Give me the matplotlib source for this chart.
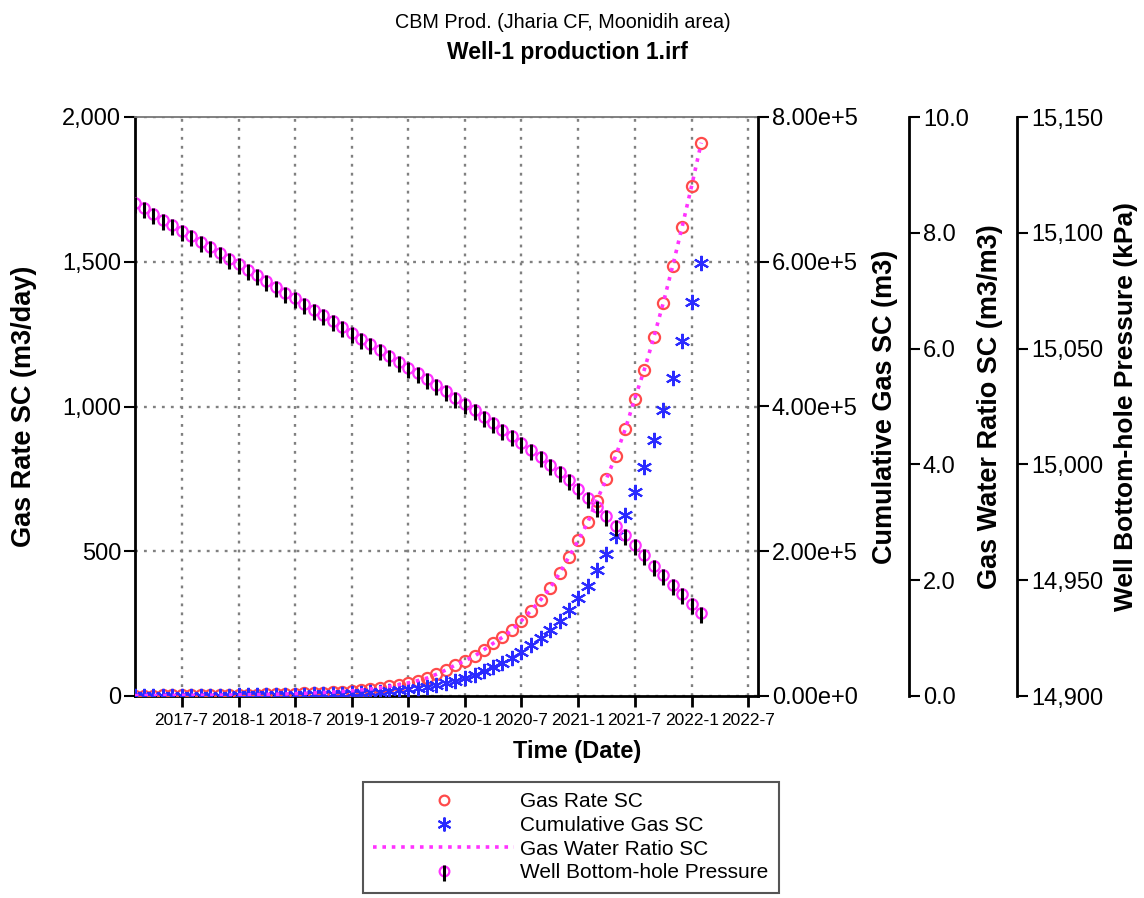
import matplotlib
matplotlib.use("Agg")
import matplotlib.pyplot as plt
import matplotlib.dates as mdates
from matplotlib.ticker import FuncFormatter, MultipleLocator
from matplotlib.lines import Line2D
from matplotlib.path import Path
import pandas as pd

plt.rcParams['font.family'] = ['Liberation Sans', 'DejaVu Sans']

# 月度資料 2017-02 ~ 2022-02
dates = pd.date_range("2017-02-01", periods=61, freq="MS")

gas_rate = [
    1.2, 1.4, 1.6, 1.8, 2.0, 2.2, 2.4, 2.6, 2.8, 3.0, 3.2,
    3.5, 4.0, 4.6, 5.3, 6.0, 7.0, 8.0, 9.0, 10.5, 12.0, 13.5, 15.5,
    18, 21, 24, 28, 33, 39, 45, 53, 62, 75, 90, 107,
    122, 138, 159, 182, 203, 228, 260, 295, 332, 372, 424, 480,
    538, 602, 675, 750, 829, 922, 1025, 1126, 1239, 1356, 1486, 1619,
    1762, 1911,
]

cum_gas = [
    0, 40, 80, 120, 170, 230, 300, 370, 450, 540, 630,
    730, 840, 960, 1100, 1250, 1420, 1600, 1850, 2150, 2500, 2900, 3350,
    3900, 4500, 5200, 6000, 7000, 8200, 9600, 11200, 13100, 15400, 18100, 21400,
    25200, 29200, 34100, 39600, 45900, 52700, 60800, 69900, 79900, 91400, 104100, 119000,
    135700, 152600, 173500, 196000, 221700, 249400, 281200, 316100, 353300, 395300, 439900, 490100,
    544700, 598200,
]

gwr = [
    0.006, 0.007, 0.008, 0.009, 0.010, 0.011, 0.012, 0.013, 0.014, 0.015, 0.016,
    0.018, 0.020, 0.023, 0.027, 0.030, 0.035, 0.040, 0.045, 0.053, 0.060, 0.068, 0.078,
    0.09, 0.105, 0.12, 0.14, 0.165, 0.195, 0.225, 0.265, 0.31, 0.375, 0.45, 0.535,
    0.61, 0.69, 0.795, 0.91, 1.015, 1.14, 1.30, 1.475, 1.66, 1.86, 2.12, 2.40,
    2.69, 3.01, 3.375, 3.75, 4.145, 4.61, 5.125, 5.63, 6.195, 6.78, 7.43, 8.095,
    8.81, 9.555,
]

bhp = [
    15112.9, 15110.5, 15108.1, 15105.7, 15103.3, 15100.9, 15098.5, 15096.1, 15093.7, 15091.3,
    15088.9, 15086.5, 15084.0, 15081.6, 15079.1, 15076.7, 15074.2, 15071.7, 15069.3, 15066.8,
    15064.3, 15061.8, 15059.3, 15056.8, 15054.3, 15051.8, 15049.3, 15046.8, 15044.3, 15041.8,
    15039.3, 15036.7, 15034.1, 15031.5, 15028.8, 15026.1, 15023.4, 15020.6, 15017.8, 15015.0,
    15012.2, 15009.2, 15006.1, 15003.0, 14999.9, 14996.8, 14993.2, 14989.5, 14985.7, 14981.8,
    14977.8, 14973.6, 14969.4, 14965.1, 14960.7, 14956.3, 14952.2, 14948.1, 14944.0, 14939.9,
    14935.8,
]

legend_labels = ["Gas Rate SC", "Cumulative Gas SC", "Gas Water Ratio SC",
                 "Well Bottom-hole Pressure"]

RED = "#ff4a4a"
BLUE = "#2b2bff"
MAG = "#ff33ff"
LBL = 19.5

fig = plt.figure(figsize=(11.44, 8.98), dpi=100)
W, H = 1144, 898
L, R, T, B = 135, 758, 117, 696
ax = fig.add_axes([L / W, 1 - B / H, (R - L) / W, (B - T) / H])

# 主軸: 氣產率
ax.plot(dates, gas_rate, linestyle="none", marker="o", ms=8, mfc="none",
        mec=RED, mew=1.6, zorder=3)
ax.set_ylim(0, 2000)
ax.yaxis.set_major_locator(MultipleLocator(500))
ax.yaxis.set_major_formatter(FuncFormatter(lambda v, p: f"{int(v):,}"))
ax.set_xlim(pd.Timestamp("2017-02-01"), pd.Timestamp("2022-08-03"))
ax.xaxis.set_major_locator(mdates.MonthLocator(bymonth=[1, 7]))
ax.xaxis.set_major_formatter(FuncFormatter(
    lambda v, p: f"{mdates.num2date(v).year}-{mdates.num2date(v).month}"))
ax.grid(True, color="#808080", linestyle=(0, (1.2, 2.6)), linewidth=1.7)
ax.tick_params(axis="y", direction="out", length=8, width=1.5, labelsize=17, pad=2)
ax.tick_params(axis="x", direction="out", length=8, width=2, labelsize=12.5, pad=4)
ax.set_ylabel("Gas Rate SC (m3/day)", fontsize=LBL, fontweight="bold", labelpad=18)
ax.set_xlabel("Time (Date)", fontsize=17, fontweight="bold")
ax.xaxis.set_label_coords((577 - L) / (R - L), (B - 740) / (B - T))
ax.spines["left"].set_linewidth(2)
ax.spines["bottom"].set_linewidth(2)
ax.spines["top"].set_color("#777777")
ax.spines["top"].set_linewidth(1.3)
ax.spines["right"].set_visible(False)

# 累積產氣
ax2 = ax.twinx()
ax2.plot(dates, cum_gas, linestyle="none", marker=(6, 2, 0), ms=11, mec=BLUE,
         mew=1.5, zorder=3)
ax2.set_ylim(0, 8e5)
ax2.yaxis.set_major_locator(MultipleLocator(2e5))
ax2.yaxis.set_major_formatter(FuncFormatter(
    lambda v, p: "0.00e+0" if v == 0 else f"{v / 1e5:.2f}e+5"))
ax2.spines["right"].set_linewidth(2)
ax2.tick_params(axis="y", direction="out", length=8, width=1.5, labelsize=17, pad=2)
ax2.set_ylabel("Cumulative Gas SC (m3)", fontsize=LBL, fontweight="bold", labelpad=10)

# 氣水比
ax3 = ax.twinx()
ax3.spines["right"].set_position(("axes", (909 - L) / (R - L)))
ax3.plot(dates, gwr, color=MAG, linestyle=(0, (1, 1.6)), linewidth=2.6, zorder=2)
ax3.set_ylim(0, 10)
ax3.yaxis.set_major_locator(MultipleLocator(2))
ax3.yaxis.set_major_formatter(FuncFormatter(lambda v, p: f"{v:.1f}"))
ax3.spines["right"].set_linewidth(2)
ax3.tick_params(axis="y", direction="out", length=8, width=1.5, labelsize=17, pad=2)
ax3.set_ylabel("Gas Water Ratio SC (m3/m3)", fontsize=LBL, fontweight="bold", labelpad=6)

# 井底壓力
bar = Path([(0, 0.6), (0, -1.0)], [Path.MOVETO, Path.LINETO])
ax4 = ax.twinx()
ax4.spines["right"].set_position(("axes", (1017 - L) / (R - L)))
ax4.plot(dates, bhp, linestyle="none", marker="o", ms=7.5, mfc="none",
         mec=MAG, mew=1.6, zorder=3)
ax4.plot(dates, bhp, linestyle="none", marker=bar, ms=15, mec="black",
         mew=2.2, zorder=4)
ax4.set_ylim(14900, 15150)
ax4.yaxis.set_major_locator(MultipleLocator(50))
ax4.yaxis.set_major_formatter(FuncFormatter(lambda v, p: f"{int(v):,}"))
ax4.spines["right"].set_linewidth(2)
ax4.tick_params(axis="y", direction="out", length=8, width=1.5, labelsize=17, pad=2)
ax4.set_ylabel("Well Bottom-hole Pressure (kPa)", fontsize=19, fontweight="bold", labelpad=8)

for a in (ax2, ax3, ax4):
    for s in ("left", "top", "bottom"):
        a.spines[s].set_visible(False)

# 標題
fig.text(0.492, 1 - 23 / H, "CBM Prod. (Jharia CF, Moonidih area)", ha="center",
         va="center", fontsize=14.2)
fig.text(0.496, 1 - 53 / H, "Well-1 production 1.irf", ha="center", va="center",
         fontsize=16.5, fontweight="bold")

# 圖例
h1 = Line2D([], [], linestyle="none", marker="o", ms=7, mfc="none", mec=RED, mew=1.6)
h2 = Line2D([], [], linestyle="none", marker=(6, 2, 0), ms=10, mec=BLUE, mew=1.5)
h3 = Line2D([], [], color=MAG, linestyle=(0, (1, 1.6)), linewidth=2.6)
h4a = Line2D([], [], linestyle="none", marker="o", ms=7, mfc="none", mec=MAG, mew=1.6)
h4b = Line2D([], [], linestyle="none", marker=bar, ms=14, mec="black", mew=2.2)
leg = fig.legend([h1, h2, h3, (h4a, h4b)], legend_labels,
                 loc="upper left", bbox_to_anchor=(363 / W, 1 - 782 / H),
                 fontsize=15, handlelength=6.75, handletextpad=0.3,
                 borderpad=0.5, labelspacing=0.22, borderaxespad=0,
                 fancybox=False, framealpha=1, numpoints=1)
leg.get_frame().set_edgecolor("#555555")
leg.get_frame().set_linewidth(1.5)

fig.savefig("out.png", dpi=100)
